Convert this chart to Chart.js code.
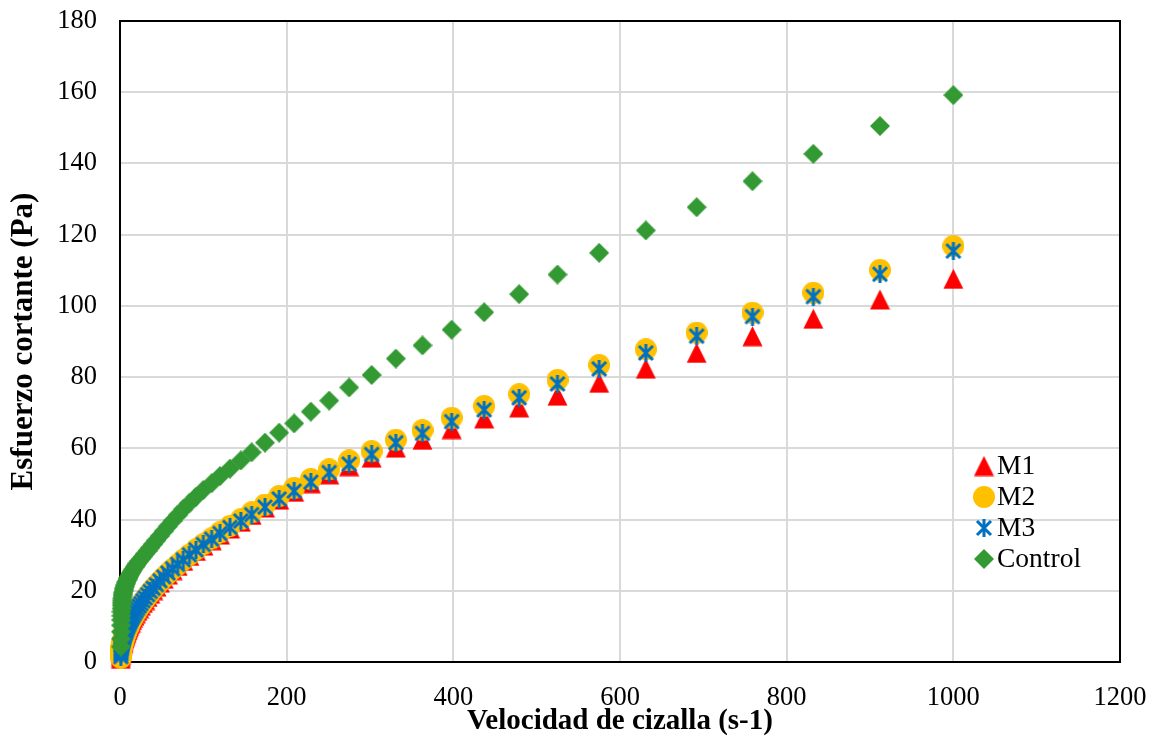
<!DOCTYPE html>
<html>
<head>
<meta charset="utf-8">
<script src="https://cdn.jsdelivr.net/npm/chart.js@4.4.1/dist/chart.umd.min.js"></script>
<style>
  html, body { margin: 0; padding: 0; background: #fff; }
  #wrap { width: 1157px; height: 737px; }
</style>
</head>
<body>
<div id="wrap"><canvas id="chart1" width="1157" height="737"></canvas></div>
<script>
// shear rate (s-1), same for every series
const shearRate = [
  1.00, 1.10, 1.20, 1.32, 1.45, 1.58, 1.74, 1.91, 2.09, 2.29,
  2.51, 2.75, 3.02, 3.31, 3.63, 3.98, 4.37, 4.79, 5.25, 5.75,
  6.31, 6.92, 7.59, 8.32, 9.12, 10.0, 11.0, 12.0, 13.2, 14.5,
  15.8, 17.4, 19.1, 20.9, 22.9, 25.1, 27.5, 30.2, 33.1, 36.3,
  39.8, 43.7, 47.9, 52.5, 57.5, 63.1, 69.2, 75.9, 83.2, 91.2,
  100, 110, 120, 132, 145, 158, 174, 191, 209, 229,
  251, 275, 302, 331, 363, 398, 437, 479, 525, 575,
  631, 692, 759, 832, 912, 1000
];

// shear stress (Pa)
const m1 = [
  0.9, 1.6, 2.2, 2.7, 3.1, 3.4, 3.7, 4.0, 4.2, 4.4,
  4.6, 4.8, 5.1, 5.3, 5.6, 5.9, 6.2, 6.5, 6.8, 7.2,
  7.5, 7.9, 8.3, 8.8, 9.2, 9.7, 10.2, 10.7, 11.2, 11.8,
  12.4, 13.0, 13.7, 14.4, 15.1, 15.8, 16.6, 17.4, 18.3, 19.2,
  20.2, 21.2, 22.3, 23.4, 24.6, 25.8, 27.0, 28.4, 29.8, 31.2,
  32.7, 34.2, 35.8, 37.5, 39.4, 41.3, 43.4, 45.6, 47.8, 50.2,
  52.7, 55.0, 57.4, 60.2, 62.4, 65.4, 68.4, 71.5, 74.8, 78.4,
  82.4, 86.8, 91.5, 96.4, 101.8, 107.6
];
const m2 = [
  1.2, 1.9, 2.5, 3.0, 3.4, 3.7, 4.0, 4.3, 4.5, 4.7,
  4.9, 5.1, 5.4, 5.6, 5.9, 6.2, 6.5, 6.8, 7.1, 7.5,
  7.8, 8.2, 8.6, 9.1, 9.5, 10.0, 10.5, 11.0, 11.5, 12.1,
  12.7, 13.3, 14.0, 14.7, 15.4, 16.1, 16.9, 17.7, 18.6, 19.5,
  20.5, 21.5, 22.6, 23.7, 24.9, 26.1, 27.3, 28.7, 30.1, 31.6,
  33.1, 34.7, 36.4, 38.2, 40.1, 42.0, 44.2, 46.6, 48.9, 51.4,
  54.1, 56.6, 59.2, 62.4, 65.1, 68.6, 71.9, 75.2, 79.2, 83.4,
  87.8, 92.5, 98.1, 103.7, 110.1, 116.8
];
const m3 = [
  1.5, 2.2, 2.8, 3.3, 3.7, 4.0, 4.3, 4.6, 4.8, 5.0,
  5.2, 5.4, 5.7, 5.9, 6.2, 6.5, 6.8, 7.1, 7.4, 7.8,
  8.1, 8.5, 8.9, 9.4, 9.8, 10.3, 10.8, 11.3, 11.8, 12.4,
  13.0, 13.6, 14.3, 15.0, 15.7, 16.4, 17.2, 18.0, 18.9, 19.8,
  20.7, 21.7, 22.8, 23.9, 25.0, 26.2, 27.4, 28.7, 30.1, 31.5,
  33.0, 34.5, 36.1, 37.8, 39.6, 41.4, 43.5, 45.8, 48.0, 50.5,
  53.2, 55.6, 58.3, 61.6, 64.2, 67.5, 70.8, 74.2, 78.1, 82.3,
  86.8, 91.5, 97.0, 102.6, 108.9, 115.4
];
const control = [
  4.3, 6.5, 8.5, 10.3, 11.8, 13.0, 14.1, 15.0, 15.9, 16.6,
  17.2, 17.8, 18.3, 18.8, 19.2, 19.6, 20.0, 20.4, 20.8, 21.2,
  21.6, 22.0, 22.4, 22.8, 23.2, 23.6, 24.0, 24.5, 25.0, 25.5,
  26.0, 26.6, 27.1, 27.7, 28.3, 28.9, 29.6, 30.4, 31.2, 32.1,
  33.1, 34.2, 35.4, 36.7, 38.1, 39.6, 41.2, 42.9, 44.6, 46.4,
  48.3, 50.2, 52.2, 54.3, 56.6, 58.9, 61.6, 64.4, 67.0, 70.3,
  73.4, 77.1, 80.6, 85.2, 88.9, 93.3, 98.2, 103.3, 108.8, 114.9,
  121.2, 127.7, 135.0, 142.7, 150.5, 159.2
];

const seriesNames = ["M1", "M2", "M3", "Control"];
const xTitle = "Velocidad de cizalla (s-1)";
const yTitle = "Esfuerzo cortante (Pa)";

const SERIF = "'Liberation Serif', 'Times New Roman', serif";

// marker images (Excel-like shapes)
function makeMarker(size, draw) {
  const c = document.createElement("canvas");
  c.width = size;
  c.height = size;
  draw(c.getContext("2d"), size);
  return c;
}

const triMarker = makeMarker(21, (g, s) => {
  g.fillStyle = "#FF0000";
  g.beginPath();
  g.moveTo(s / 2, 0.5);
  g.lineTo(s - 0.5, s - 0.5);
  g.lineTo(0.5, s - 0.5);
  g.closePath();
  g.fill();
});

const circMarker = makeMarker(22, (g, s) => {
  g.fillStyle = "#FFC000";
  g.beginPath();
  g.arc(s / 2, s / 2, s / 2, 0, Math.PI * 2);
  g.fill();
});

const starMarker = makeMarker(18, (g, s) => {
  g.strokeStyle = "#0070C0";
  g.lineWidth = 3;
  g.beginPath();
  g.moveTo(2, 2); g.lineTo(s - 2, s - 2);
  g.moveTo(s - 2, 2); g.lineTo(2, s - 2);
  g.moveTo(s / 2, 0); g.lineTo(s / 2, s);
  g.stroke();
});

const diamMarker = makeMarker(20, (g, s) => {
  g.fillStyle = "#339933";
  g.beginPath();
  g.moveTo(s / 2, 0);
  g.lineTo(s, s / 2);
  g.lineTo(s / 2, s);
  g.lineTo(0, s / 2);
  g.closePath();
  g.fill();
});

const markers = [triMarker, circMarker, starMarker, diamMarker];
const seriesValues = [m1, m2, m3, control];

function toPoints(values) {
  return shearRate.map((x, i) => ({ x: x, y: values[i] }));
}

// plot frame + custom legend inside plot area
const framePlugin = {
  id: "frame",
  beforeDatasetsDraw(chart) {
    const { ctx, chartArea: a } = chart;
    ctx.save();
    ctx.strokeStyle = "#000";
    ctx.lineWidth = 2;
    ctx.strokeRect(a.left, a.top, a.right - a.left, a.bottom - a.top);
    ctx.restore();
  },
  afterDraw(chart) {
    const ctx = chart.ctx;
    ctx.save();
    ctx.font = "27.5px " + SERIF;
    ctx.fillStyle = "#000";
    ctx.textBaseline = "middle";
    seriesNames.forEach((name, i) => {
      const cy = 466 + i * 31;
      const m = markers[i];
      ctx.drawImage(m, 984 - m.width / 2, cy - m.height / 2);
      ctx.fillText(name, 997, cy + 1);
    });
    ctx.restore();
  }
};

function noPad(scale) {
  scale.paddingTop = 0;
  scale.paddingBottom = 0;
  scale.paddingLeft = 0;
  scale.paddingRight = 0;
}

const ctx = document.getElementById("chart1").getContext("2d");

new Chart(ctx, {
  type: "scatter",
  data: {
    datasets: seriesNames.map((name, i) => ({
      label: name,
      data: toPoints(seriesValues[i]),
      pointStyle: markers[i],
      pointRadius: 10,
      pointHoverRadius: 10,
      showLine: false,
      clip: false,
      order: 4 - i
    }))
  },
  options: {
    responsive: false,
    devicePixelRatio: 1,
    animation: false,
    layout: { padding: { top: 21, right: 37, left: 0, bottom: 0 } },
    plugins: {
      legend: { display: false },
      tooltip: { enabled: false }
    },
    scales: {
      x: {
        type: "linear",
        min: 0,
        max: 1200,
        afterFit: (scale) => { scale.height = 75; noPad(scale); },
        ticks: {
          stepSize: 200,
          color: "#000",
          padding: 20,
          callback: (v) => String(v),
          font: { family: SERIF, size: 26.5 }
        },
        grid: { color: "#d9d9d9", lineWidth: 2, drawTicks: false },
        border: { display: false },
        title: {
          display: true,
          text: xTitle,
          color: "#000",
          font: { family: SERIF, size: 29, weight: "bold", lineHeight: 1 },
          padding: { top: 0, bottom: 1 }
        }
      },
      y: {
        type: "linear",
        min: 0,
        max: 180,
        afterFit: (scale) => { scale.width = 120; noPad(scale); },
        ticks: {
          stepSize: 20,
          color: "#000",
          padding: 23,
          callback: (v) => String(v),
          font: { family: SERIF, size: 26.5 }
        },
        grid: { color: "#d9d9d9", lineWidth: 2, drawTicks: false },
        border: { display: false },
        title: {
          display: true,
          text: yTitle,
          color: "#000",
          font: { family: SERIF, size: 31, weight: "bold", lineHeight: 1 },
          padding: { top: 8, bottom: 0 }
        }
      }
    }
  },
  plugins: [framePlugin]
});
</script>
</body>
</html>
